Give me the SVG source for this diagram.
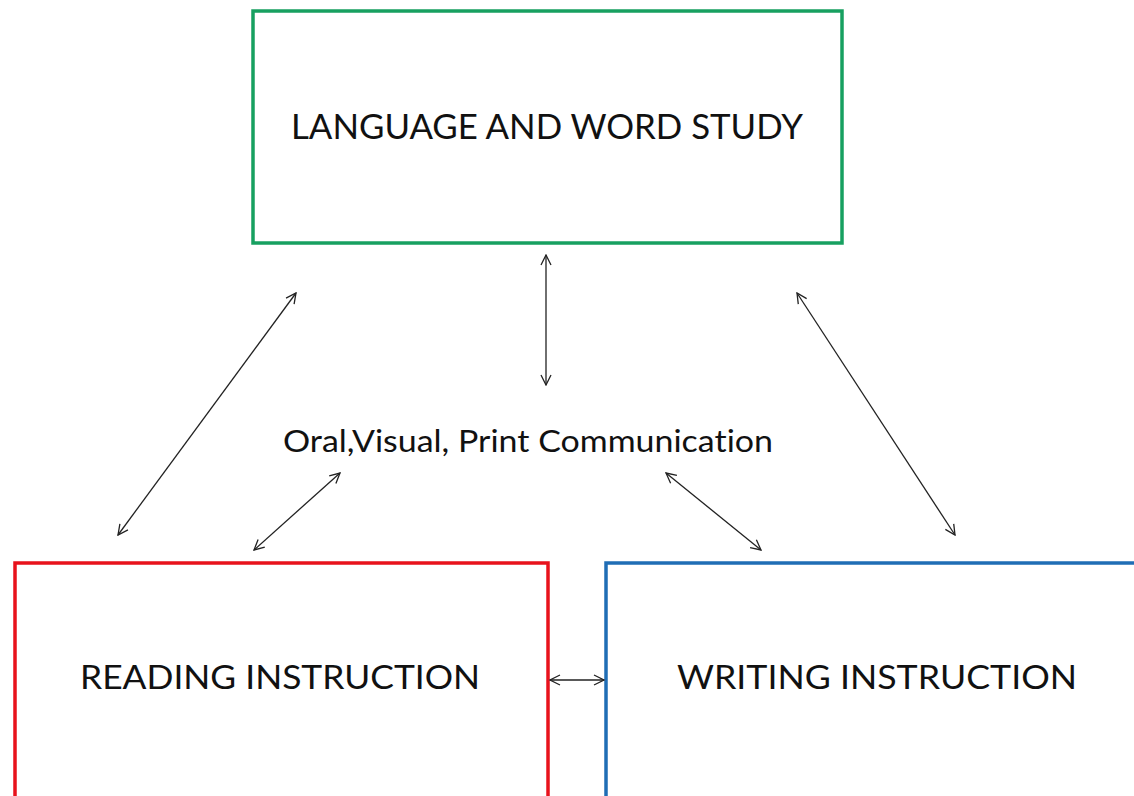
<svg xmlns="http://www.w3.org/2000/svg" width="1134" height="796" viewBox="0 0 1134 796">
  <style>
    .box { fill: #ffffff; stroke-width: 3.5; }
    .label { font-family: Lato, "Open Sans", "Liberation Sans", sans-serif; fill: #111111; text-anchor: middle; font-variant-ligatures: none; }
    .link { fill: none; stroke: #222222; stroke-width: 1.3; marker-start: url(#head); marker-end: url(#head); }
  </style>
  <defs>
    <marker id="head" viewBox="0 0 12 12" refX="11" refY="6" markerWidth="12" markerHeight="12" markerUnits="userSpaceOnUse" orient="auto-start-reverse">
      <path d="M1,1 L11,6 L1,11" fill="none" stroke="#222222" stroke-width="1.3"/>
    </marker>
  </defs>
  <rect width="1134" height="796" fill="#ffffff"/>

  <g id="language-word-study">
    <rect class="box" x="253" y="11" width="589" height="232" stroke="#17a060"/>
    <text class="label" x="547" y="139" font-size="34" textLength="512" lengthAdjust="spacingAndGlyphs">LANGUAGE AND WORD STUDY</text>
  </g>

  <g id="reading-instruction">
    <rect class="box" x="15" y="563" width="533" height="240" stroke="#e8121c"/>
    <text class="label" x="280" y="689" font-size="33" textLength="400" lengthAdjust="spacingAndGlyphs">READING INSTRUCTION</text>
  </g>

  <g id="writing-instruction">
    <rect class="box" x="606" y="563" width="540" height="240" stroke="#1f6db5"/>
    <text class="label" x="877" y="689" font-size="33" textLength="400" lengthAdjust="spacingAndGlyphs">WRITING INSTRUCTION</text>
  </g>

  <g id="communication">
    <text class="label" x="528" y="452" font-size="30" textLength="490" lengthAdjust="spacingAndGlyphs">Oral,Visual, Print Communication</text>
  </g>

  <g id="connectors">
    <line class="link" x1="546" y1="255" x2="546" y2="385"/>
    <line class="link" x1="296" y1="293" x2="118" y2="535"/>
    <line class="link" x1="340" y1="473" x2="254" y2="550"/>
    <line class="link" x1="797" y1="293" x2="955" y2="535"/>
    <line class="link" x1="666" y1="473" x2="761" y2="550"/>
    <line class="link" x1="550" y1="680" x2="604" y2="680"/>
  </g>
</svg>
